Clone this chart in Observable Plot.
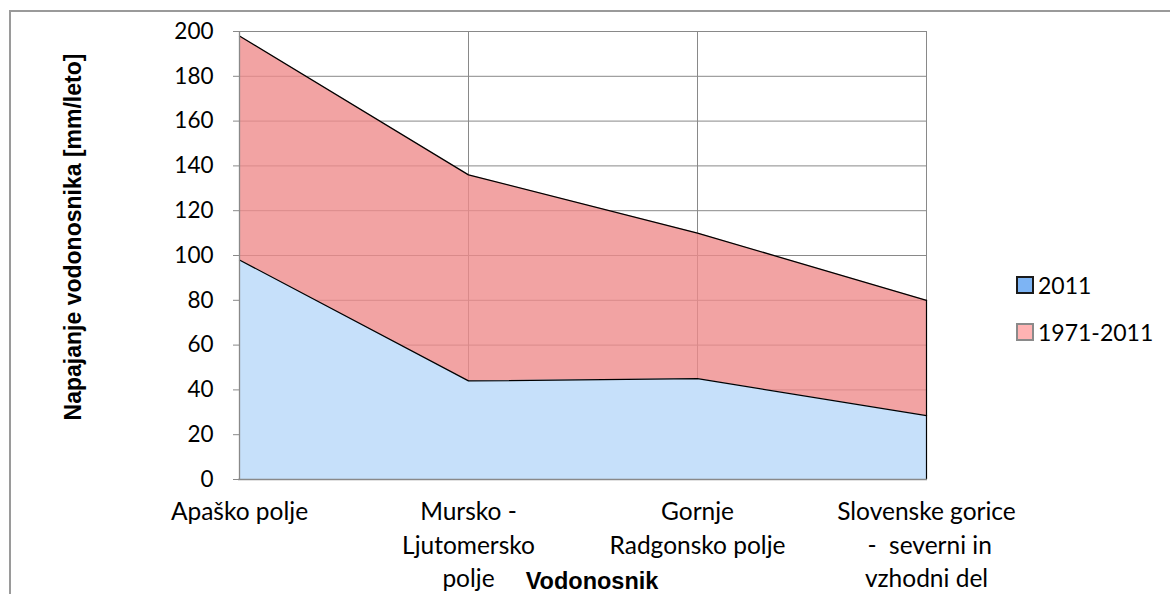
<!DOCTYPE html>
<html>
<head>
<meta charset="utf-8">
<script src="https://cdn.jsdelivr.net/npm/d3@7"></script>
<script src="https://cdn.jsdelivr.net/npm/@observablehq/plot@0.6"></script>
<style>
  html, body { margin: 0; padding: 0; background: #fff; overflow: hidden; }
  #wrap { position: relative; width: 1170px; height: 594px; overflow: hidden; }
  #frame { position: absolute; left: 9px; top: 10px; width: 1300px; height: 800px;
           border-left: 2px solid #9a9a9a; border-top: 2px solid #9a9a9a; }
  #chart { position: absolute; left: 0; top: 0; }
  .ytitle { position: absolute; left: 73px; top: 237px; transform: translate(-50%, -50%) rotate(-90deg);
            font-family: "Liberation Sans", Arial, sans-serif; font-weight: bold; font-size: 23px;
            white-space: nowrap; color: #000; }
  .xtitle { position: absolute; left: 592px; top: 581px; transform: translate(-50%, -50%);
            font-family: "Liberation Sans", Arial, sans-serif; font-weight: bold; font-size: 23.5px;
            white-space: nowrap; color: #000; }
  .legend { position: absolute; left: 1016px; top: 272px; font-family: Lato, sans-serif; font-size: 23px; color: #000; }
  .legend .item { display: flex; align-items: center; height: 26px; margin-bottom: 21px; }
  .legend .sw { width: 14px; height: 14px; margin-right: 4px; box-sizing: content-box; }
</style>
</head>
<body>
<div id="wrap">
  <div id="frame"></div>
  <div id="chart"></div>
  <div class="ytitle">Napajanje vodonosnika [mm/leto]</div>
  <div class="xtitle">Vodonosnik</div>
  <div class="legend" id="legend"></div>
</div>
<script>
// ---- data ----
const categories = [
  "Apaško polje",
  "Mursko -\nLjutomersko\npolje",
  "Gornje\nRadgonsko polje",
  "Slovenske gorice\n -  severni in\nvzhodni del"
];
const series2011 = [98, 44, 45, 28.5];
const series1971_2011 = [198, 136, 110, 80];
const seriesNames = ["2011", "1971-2011"];
const yTicks = [0, 20, 40, 60, 80, 100, 120, 140, 160, 180, 200];

const rows = categories.map((c, i) => ({cat: c, v2011: series2011[i], v1971: series1971_2011[i]}));
const lastRow = rows.slice(-1);

const gridColor = "#898989";

const chart = Plot.plot({
  width: 1170,
  height: 594,
  marginLeft: 238,
  marginRight: 243,
  marginTop: 31,
  marginBottom: 115,
  style: {fontFamily: "Lato, sans-serif", fontSize: "22px", color: "#000", background: "transparent", overflow: "visible"},
  x: {type: "point", domain: categories, padding: 0, axis: null},
  y: {domain: [0, 200], axis: null},
  marks: [
    Plot.gridY(yTicks, {stroke: gridColor, strokeOpacity: 1}),
    Plot.gridX(categories, {stroke: gridColor, strokeOpacity: 1}),
    Plot.areaY(rows, {x: "cat", y: "v1971", fill: "#EF8A8A", fillOpacity: 0.79}),
    Plot.areaY(rows, {x: "cat", y: "v2011", fill: "#C6E0FA"}),
    Plot.lineY(rows, {x: "cat", y: "v1971", stroke: "#000", strokeWidth: 1.3}),
    Plot.lineY(rows, {x: "cat", y: "v2011", stroke: "#000", strokeWidth: 1.3}),
    Plot.ruleX(lastRow, {x: "cat", y1: 0, y2: "v1971", stroke: "#000", strokeWidth: 1.2}),
    Plot.ruleY([0], {stroke: gridColor, strokeWidth: 1.3}),
    Plot.ruleX([categories[0]], {stroke: gridColor, strokeWidth: 1.3}),
    Plot.axisY(yTicks, {tickSize: 5, stroke: gridColor, tickFormat: () => "", label: null}),
    Plot.axisY(yTicks, {tickSize: 0, tickPadding: 25, tickFormat: d => String(d), fill: "#000", fontSize: 22.5, label: null}),
    Plot.axisX(categories, {tickSize: 0, tickPadding: 17, lineHeight: 1.37, fill: "#000", fontSize: 24.5, label: null})
  ]
});
document.getElementById("chart").appendChild(chart);

// legend
const legendColors = [
  {fill: "#7DB4F4", border: "#1a1a1a"},
  {fill: "#FFB3B3", border: "#8a8a8a"}
];
const legend = document.getElementById("legend");
seriesNames.forEach((name, i) => {
  const item = document.createElement("div");
  item.className = "item";
  const sw = document.createElement("span");
  sw.className = "sw";
  sw.style.background = legendColors[i].fill;
  sw.style.border = "2px solid " + legendColors[i].border;
  const t = document.createElement("span");
  t.textContent = name;
  item.appendChild(sw);
  item.appendChild(t);
  legend.appendChild(item);
});
</script>
</body>
</html>
